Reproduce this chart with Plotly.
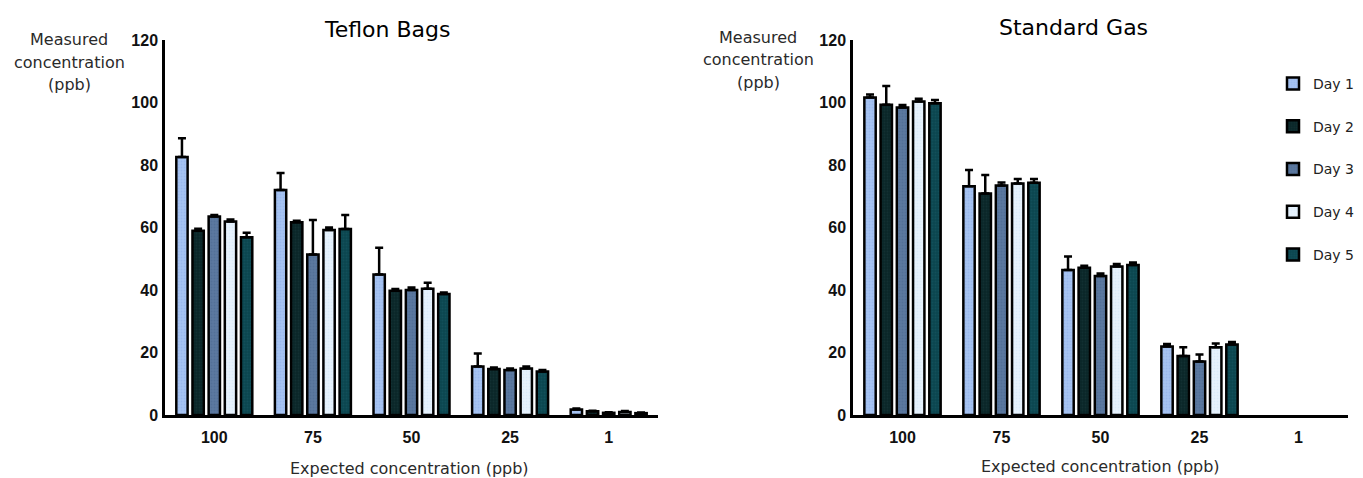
import plotly.graph_objects as go

# ---- data ----
categories = ["100", "75", "50", "25", "1"]
days = ["Day 1", "Day 2", "Day 3", "Day 4", "Day 5"]

teflon_day1 = [82.6, 72.0, 45.0, 15.5, 1.8]
teflon_day2 = [59.0, 61.7, 39.8, 14.7, 1.2]
teflon_day3 = [63.5, 51.4, 40.0, 14.4, 0.7]
teflon_day4 = [61.9, 59.2, 40.4, 14.9, 1.0]
teflon_day5 = [56.9, 59.5, 38.7, 13.9, 0.6]
teflon_err1 = [6.0, 5.4, 8.5, 4.2, 0.3]
teflon_err2 = [0.6, 0.5, 0.5, 0.5, 0.2]
teflon_err3 = [0.5, 11.0, 0.8, 0.5, 0.2]
teflon_err4 = [0.7, 0.8, 1.9, 0.6, 0.3]
teflon_err5 = [1.4, 4.5, 0.5, 0.5, 0.2]

gas_day1 = [101.6, 73.2, 46.4, 21.9, None]
gas_day2 = [99.3, 70.9, 47.1, 18.9, None]
gas_day3 = [98.4, 73.4, 44.5, 17.1, None]
gas_day4 = [100.3, 74.1, 47.5, 21.7, None]
gas_day5 = [99.8, 74.3, 48.0, 22.6, None]
gas_err1 = [1.0, 5.2, 4.3, 0.8, None]
gas_err2 = [6.0, 5.9, 0.7, 2.8, None]
gas_err3 = [0.8, 1.0, 0.8, 2.3, None]
gas_err4 = [0.9, 1.4, 0.8, 1.2, None]
gas_err5 = [1.0, 1.2, 0.8, 0.8, None]

yticks = [0, 20, 40, 60, 80, 100, 120]

# ---- styling ----
fill_colors = ["#a6c3f2", "#0a2628", "#5b789f", "#e6f2fc", "#0b4650"]
dot_colors = ["#8eaee6", "#1a3a3c", "#4a6890", "#cfe3f5", "#1a5a64"]

# the page body has an 8px margin; the figure is sized to fill the rest
OFF = 8
W, H = 1363 - OFF, 478 - OFF
def px(x):
    return (x - OFF) / W
def py(y):
    return 1 - (y - OFF) / H

teflon = [teflon_day1, teflon_day2, teflon_day3, teflon_day4, teflon_day5]
teflon_err = [teflon_err1, teflon_err2, teflon_err3, teflon_err4, teflon_err5]
gas = [gas_day1, gas_day2, gas_day3, gas_day4, gas_day5]
gas_err = [gas_err1, gas_err2, gas_err3, gas_err4, gas_err5]

fig = go.Figure()

def add_series(vals, errs, xa, ya, show):
    for i, d in enumerate(days):
        fig.add_trace(go.Bar(
            x=categories, y=vals[i], name=d,
            xaxis=xa, yaxis=ya,
            legendgroup=d, showlegend=show,
            marker=dict(color=fill_colors[i],
                        line=dict(color="black", width=2.5),
                        pattern=dict(shape=".", fgcolor=dot_colors[i],
                                     bgcolor=fill_colors[i], size=3, solidity=0.3)),
            error_y=dict(type="data", array=errs[i],
                         arrayminus=[0] * len(errs[i]), symmetric=False,
                         color="black", thickness=2.5, width=4),
        ))

add_series(teflon, teflon_err, "x", "y", False)
add_series(gas, gas_err, "x2", "y2", True)

tickfont = dict(family="Liberation Sans, Arial", size=16,
                color="#111", weight="bold")

xcommon = dict(type="category", categoryorder="array", categoryarray=categories,
               range=[-0.5, 4.5], showline=True, linecolor="black", linewidth=2.5,
               showgrid=False, zeroline=False, ticks="", tickfont=tickfont,
               ticklabelstandoff=6, fixedrange=True, automargin=False)
ycommon = dict(range=[0, 120], tickvals=yticks, showline=True, linecolor="black",
               linewidth=2.5, showgrid=False, zeroline=False, ticks="",
               tickfont=tickfont, ticklabelstandoff=1, automargin=False)

y_dom = [py(415), py(40)]
fig.update_layout(
    width=W, height=H,
    margin=dict(l=0, r=0, t=0, b=0, autoexpand=False),
    paper_bgcolor="white", plot_bgcolor="white",
    barmode="group", bargap=0.18, bargroupgap=0.3,
    xaxis=dict(domain=[px(165), px(658)], anchor="y", **xcommon),
    yaxis=dict(domain=y_dom, anchor="x", **ycommon),
    xaxis2=dict(domain=[px(853), px(1348)], anchor="y2", **xcommon),
    yaxis2=dict(domain=y_dom, anchor="x2", **ycommon),
    legend=dict(x=px(1273), y=py(68), xanchor="left", yanchor="top",
                font=dict(family="DejaVu Sans", size=14, color="#222"),
                tracegroupgap=21.5, bgcolor="rgba(0,0,0,0)", itemwidth=30),
    showlegend=True,
)

label_font = dict(family="DejaVu Sans", size=16, color="#2a2a2a")
title_font = dict(family="DejaVu Sans", size=22, color="black")
ann = []
ann.append(dict(text="Teflon Bags", x=px(387), y=py(30), font=title_font))
ann.append(dict(text="Standard Gas", x=px(1073), y=py(28), font=title_font))
for cx, y0 in [(69, 39), (758, 37)]:
    for k, line in enumerate(["Measured", "concentration", "(ppb)"]):
        ann.append(dict(text=line, x=px(cx), y=py(y0 + 23 * k), font=label_font))
ann.append(dict(text="Expected concentration (ppb)", x=px(410), y=py(468), font=label_font))
ann.append(dict(text="Expected concentration (ppb)", x=px(1100), y=py(466), font=label_font))
for a in ann:
    a.update(xref="paper", yref="paper", xanchor="center", yanchor="middle",
             showarrow=False)
fig.update_layout(annotations=ann)

fig.write_html("out.html")
